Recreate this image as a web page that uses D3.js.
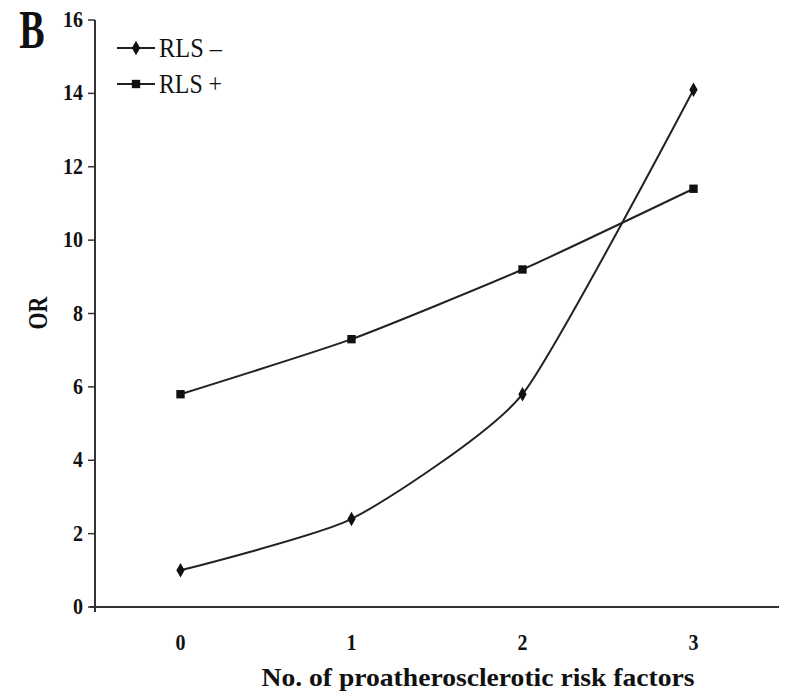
<!DOCTYPE html>
<html>
<head>
<meta charset="utf-8">
<script src="https://cdn.jsdelivr.net/npm/d3@7"></script>
<style>
  html, body { margin: 0; padding: 0; background: #fff; }
  svg { display: block; }
  text { font-family: "Liberation Serif", "Times New Roman", serif; fill: #111; }
</style>
</head>
<body>
<svg id="chart" width="786" height="696"></svg>
<script>
// Number of proatherosclerotic risk factors (categories)
const categories = ["0", "1", "2", "3"];
// Odds ratios per group
const rlsNeg = [1.0, 2.4, 5.8, 14.1];
const rlsPos = [5.8, 7.3, 9.2, 11.4];
const yTicks = [0, 2, 4, 6, 8, 10, 12, 14, 16];
const seriesNames = ["RLS \u2013", "RLS +"];

const svg = d3.select("#chart");
const margin = { left: 95, right: 7, top: 20, bottom: 89 };
const W = 786, H = 696;
const TEXT_STRETCH = 1.2;

const x = d3.scaleBand()
  .domain(categories)
  .range([margin.left, W - margin.right])
  .paddingInner(0).paddingOuter(0);
const xc = d => x(d) + x.bandwidth() / 2;

const y = d3.scaleLinear().domain([0, 16]).range([H - margin.bottom, margin.top]);

// text helper: taller, narrower serif glyphs
function label(g, tx, ty, str, opts = {}) {
  const t = g.append("text")
    .attr("transform", `translate(${tx},${ty}) rotate(${opts.rotate || 0}) scale(1,${opts.stretch || TEXT_STRETCH})`)
    .attr("text-anchor", opts.anchor || "middle")
    .attr("font-size", opts.size || 20)
    .attr("font-weight", opts.weight || "bold")
    .text(str);
  if (opts.length) t.attr("textLength", opts.length).attr("lengthAdjust", "spacingAndGlyphs");
  return t;
}

// Y axis
const yAxis = svg.append("g").attr("transform", `translate(${margin.left},0)`);
yAxis.append("line")
  .attr("x1", 0).attr("x2", 0)
  .attr("y1", y(16)).attr("y2", y(0) + 5)
  .attr("stroke", "#333").attr("stroke-width", 2);
yTicks.forEach(v => {
  yAxis.append("line")
    .attr("x1", -7).attr("x2", 0)
    .attr("y1", y(v)).attr("y2", y(v))
    .attr("stroke", "#333").attr("stroke-width", 1.5);
  label(yAxis, -12, y(v) + 7, String(v), { anchor: "end", size: 20 });
});

// X axis
const xAxis = svg.append("g");
xAxis.append("line")
  .attr("x1", margin.left - 5).attr("x2", W - margin.right)
  .attr("y1", y(0)).attr("y2", y(0))
  .attr("stroke", "#333").attr("stroke-width", 2.2);
categories.forEach(c => {
  label(xAxis, xc(c), 650, c, { size: 20 });
});

// Axis titles
label(svg, 478, 686, "No. of proatherosclerotic risk factors", { size: 21, length: 433 });
label(svg, 47, 313, "OR", { size: 22, rotate: -90 });
label(svg, 32, 48, "B", { size: 38, stretch: 1.45 });

// Series lines (gently smoothed)
const line = d3.line()
  .x((d, i) => xc(categories[i]))
  .y(d => y(d))
  .curve(d3.curveCardinal.tension(0.45));

const series = [
  { name: seriesNames[0], values: rlsNeg, marker: "diamond" },
  { name: seriesNames[1], values: rlsPos, marker: "square" }
];

const diamond = d3.symbol().type(d3.symbolDiamond).size(60);
const square = d3.symbol().type(d3.symbolSquare).size(70);

series.forEach(s => {
  svg.append("path")
    .attr("d", line(s.values))
    .attr("fill", "none")
    .attr("stroke", "#222")
    .attr("stroke-width", 2);
  svg.selectAll(null)
    .data(s.values)
    .enter().append("path")
    .attr("transform", (d, i) => `translate(${xc(categories[i])},${y(d)})`)
    .attr("d", s.marker === "diamond" ? diamond : square)
    .attr("fill", "#111");
});

// Legend
const legend = svg.append("g");
series.forEach((s, i) => {
  const ly = 48 + i * 36;
  legend.append("line")
    .attr("x1", 117).attr("x2", 155)
    .attr("y1", ly).attr("y2", ly)
    .attr("stroke", "#222").attr("stroke-width", 2);
  legend.append("path")
    .attr("transform", `translate(136,${ly})`)
    .attr("d", s.marker === "diamond" ? diamond : square)
    .attr("fill", "#111");
  label(legend, 159, ly + 9, s.name, { anchor: "start", size: 22, weight: "normal", length: 63 });
});
</script>
</body>
</html>
